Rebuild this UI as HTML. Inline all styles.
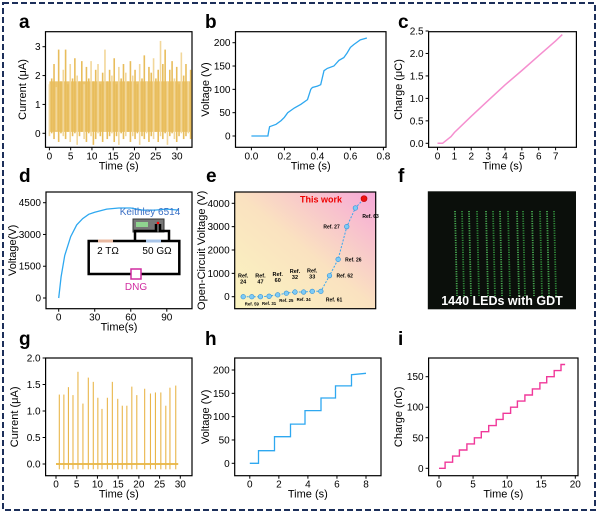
<!DOCTYPE html>
<html><head><meta charset="utf-8"><style>
html,body{margin:0;padding:0;background:#fff}
svg{display:block;font-family:"Liberation Sans",Arial,sans-serif}
</style></head><body>
<svg id="fig" width="600" height="514" viewBox="0 0 600 514">
<defs>
<linearGradient id="eg" x1="0" y1="1" x2="1" y2="0">
<stop offset="0" stop-color="#fbf5c0"/><stop offset="0.5" stop-color="#fae2c0"/><stop offset="1" stop-color="#f6a8d8"/>
</linearGradient>
</defs>
<rect x="3" y="3" width="592" height="507" fill="none" stroke="#1c2f5a" stroke-width="2" stroke-dasharray="6,3"/>
<g id="root"></g>
</svg>
<script>
// ---------- data ----------
const aHigh=[1.7,1.9,2.4,1.6,2.9,1.8,2.2,2.9,1.7,2.4,1.9,2.6,2.0,1.8,2.5,1.7,2.3,1.9,2.5,1.8,2.2,2.4,1.7,2.1,2.9,1.8,2.2,2.0,2.6,1.7,2.3,1.9,2.4,2.1,1.8,2.5,2.0,2.2,1.7,2.4,1.9,2.7,1.8,2.3,2.1,2.6,1.9,2.2,3.2,2.4,2.9,1.8,2.2,2.5,1.9,2.3,1.7,2.8,2.0,2.4,1.8,2.2];
const aLow=[-0.1,0.0,-0.2,0.1,-0.3,0.0,-0.1,-0.2,0.05,-0.3,-0.1,0.0,-0.4,-0.1,0.05,-0.2,-0.3,0.0,-0.1,-0.4,-0.2,0.0,-0.1,-0.3,0.05,-0.2,-0.1,0.0,-0.3,-0.1,-0.4,0.0,-0.2,-0.1,0.05,-0.3,-0.1,-0.2,0.0,-0.4,-0.1,-0.2,0.0,-0.3,-0.1,-0.2,0.05,-0.3,-0.1,-0.2,0.0,-0.4,-0.1,0.0,-0.2,-0.3,-0.1,0.0,-0.2,-0.1,0.0,-0.2];
const bT=[0,0.1,0.105,0.11,0.15,0.18,0.2,0.22,0.26,0.3,0.34,0.36,0.37,0.4,0.42,0.44,0.46,0.5,0.53,0.56,0.58,0.6,0.62,0.66,0.7];
const bV=[0,0,10,20,25,33,40,50,60,68,78,100,104,107,110,140,145,150,162,168,178,190,196,206,210];
const cT=[0,0.3,0.8,1,2,3,4,5,6,7,7.4];
const cQ=[0,0,0.15,0.24,0.6,0.95,1.3,1.62,1.95,2.28,2.42];
const dT=[0,2,5,10,15,20,25,30,40,50,60,70,80,90,100];
const dV=[0,1000,2000,2900,3450,3750,3950,4050,4200,4250,4250,4150,4150,4200,4150];
const eRefs=["Ref. 24","Ref. 59","Ref. 47","Ref. 31","Ref. 60","Ref. 25","Ref. 32","Ref. 34","Ref. 33","Ref. 61","Ref. 62","Ref. 26","Ref. 27","Ref. 63","This work"];
const eV=[0,0,0,20,80,150,200,200,230,230,900,1600,3000,3800,4200];
const gT=[0.8,1.9,3.0,4.1,5.3,6.5,7.8,9.0,10.1,11.1,12.4,13.6,14.9,16.0,17.1,18.3,19.5,21.4,22.8,24.0,25.3,26.5,27.5,28.9];
const gI=[1.31,1.31,1.45,1.30,1.74,1.14,1.63,1.55,1.25,1.04,1.25,1.55,1.23,1.10,1.10,1.46,1.30,1.42,1.33,1.35,1.35,1.10,1.44,1.48];
const hStepT=[0.6,1.7,2.8,3.8,4.9,5.9,7.0];
const hStepV=[27,57,84,113,140,166,190];
const hEnd=[8,193];
const iStepT=[0.9,2.0,3.0,4.1,5.2,6.2,7.3,8.4,9.4,10.5,11.5,12.6,13.7,14.8,15.8,16.9,17.9];
const iStepV=[10,20,30,40,50,60,70,80,90,100,110,120,130,140,150,160,170];
const iEnd=18.5;

// ---------- helpers ----------
const NS="http://www.w3.org/2000/svg";
const root=document.getElementById('root');
function mk(tag,attrs,parent,txt){const e=document.createElementNS(NS,tag);for(const k in attrs)e.setAttribute(k,attrs[k]);if(txt!==undefined)e.textContent=txt;(parent||root).appendChild(e);return e;}
function lin(d0,d1,r0,r1){return v=>r0+(v-d0)*(r1-r0)/(d1-d0);}
function frame(name,x0,y0,x1,y1,xs,ys,xt,yt,xl,yl,letter,lx,ly){
  const g=mk('g',{});
  
  
  const b=mk('rect',{x:x0,y:y0,width:x1-x0,height:y1-y0,fill:'none',stroke:'#000','stroke-width':1.2},g);
  
  
  xt.forEach(v=>{const X=xs(v);mk('line',{x1:X,x2:X,y1:y1,y2:y1+3,stroke:'#000'},g);
    const t=mk('text',{x:X,y:y1+12,'font-size':10,'text-anchor':'middle'},g,v);
    
    });
  yt.forEach(v=>{const Y=ys(v);mk('line',{x1:x0-3,x2:x0,y1:Y,y2:Y,stroke:'#000'},g);
    const t=mk('text',{x:x0-5,y:Y+3.5,'font-size':10,'text-anchor':'end'},g,v);
    
    });
  if(xl){const t=mk('text',{x:(x0+x1)/2,y:y1+22,'font-size':11,'text-anchor':'middle'},g,xl);
    
    }
  if(yl){const cx=yl[1],cy=(y0+y1)/2;const t=mk('text',{x:cx,y:cy,'font-size':11,'text-anchor':'middle',transform:`rotate(-90 ${cx} ${cy})`},g,yl[0]);
    
    }
  const L=mk('text',{x:lx,y:ly,'font-size':19,'font-weight':'bold'},g,letter);
  
  
  return g;
}
function path(g,pts,color,w,name){const p=mk('path',{d:'M'+pts.map(p=>p[0].toFixed(1)+','+p[1].toFixed(1)).join('L'),fill:'none',stroke:color,'stroke-width':w},g);
  
  return p;}

// ---------- panel a ----------
{const xs=lin(0,30,49.4,177),ys=lin(0,3,133.3,46.7);
 const g=frame('panel-a',45.5,31.7,192,147.3,xs,ys,[0,5,10,15,20,25,30],[0,1,2,3],'Time (s)',['Current (μA)',26],'a',19,28);
 const n=aHigh.length;
 const band=mk('rect',{x:xs(0),y:ys(1.8),width:xs(33.2)-xs(0),height:ys(0.05)-ys(1.8),fill:'#ecc56e'},g);
 
 
 for(let i=0;i<n;i++){const t=33.2*i/(n-1);const l=mk('line',{x1:xs(t),x2:xs(t),y1:ys(aLow[i]),y2:ys(aHigh[i]),stroke:i%3?'#e8bd5c':'#f2d79a','stroke-width':1.6},g);
  
  }}
// ---------- panel b ----------
{const xs=lin(0,0.8,251.4,383.4),ys=lin(0,200,136,42.7);
 const g=frame('panel-b',235.5,31.7,386,147.3,xs,ys,['0.0','0.2','0.4','0.6','0.8'],[0,50,100,150,200],'Time (s)',['Voltage (V)',209],'b',205,28);
 path(g,bT.map((t,i)=>[xs(t),ys(bV[i])]),'#2ea8f0',1.3,'voltage-line');}
// ---------- panel c ----------
{const xs=lin(0,7,437.5,555.6),ys=lin(0,2.5,143.3,31);
 const g=frame('panel-c',428.6,31.7,576.4,147.3,xs,ys,[0,1,2,3,4,5,6,7],['0.0','0.5','1.0','1.5','2.0','2.5'],'Time (s)',['Charge (μC)',402],'c',398,28);
 path(g,cT.map((t,i)=>[xs(t),ys(cQ[i])]),'#f58fcf',1.5,'charge-line');}
// ---------- panel d ----------
{const xs=lin(0,90,58.7,166.8),ys=lin(0,4500,298,202.7);
 const g=frame('panel-d',46,192,192,308.7,xs,ys,[0,30,60,90],[0,1500,3000,4500],'Time(s)',['Voltage(V)',16],'d',19,182);
 path(g,dT.map((t,i)=>[xs(t),ys(dV[i])]),'#2ea8f0',1.3,'voltage-line');
 const c=mk('g',{},g);
 
 
 const oy=-6;
 mk('text',{x:150,y:223+oy-2,'font-size':10,'text-anchor':'middle',fill:'#3b6fc4'},c,'Keithley 6514');
 mk('rect',{x:133,y:225+oy,width:31,height:13,fill:'#777',stroke:'#333'},c);
 mk('rect',{x:136,y:228+oy,width:12,height:5,fill:'#8fd48f'},c);
 mk('circle',{cx:158,cy:229+oy,r:1.3,fill:'red'},c);
 mk('path',{d:`M88.7,${247+oy}H179.3V${280+oy}H88.7Z`,fill:'none',stroke:'#000','stroke-width':2.5},c);
 mk('path',{d:`M135,${247+oy}V${237+oy}H156V${230+oy}M160,${230+oy}V${237+oy}H169V${247+oy}`,fill:'none',stroke:'#000','stroke-width':2.5},c);
 mk('rect',{x:98,y:245.5+oy,width:15,height:3,fill:'#e8b8a0'},c);
 mk('rect',{x:146,y:245.5+oy,width:15,height:3,fill:'#a8c4e8'},c);
 mk('text',{x:108,y:260+oy,'font-size':10,'text-anchor':'middle'},c,'2 TΩ');
 mk('text',{x:157,y:260+oy,'font-size':10,'text-anchor':'middle'},c,'50 GΩ');
 mk('rect',{x:131,y:275+oy,width:10,height:10,fill:'#fff',stroke:'#d02ca0','stroke-width':1.5},c);
 mk('text',{x:136,y:296+oy,'font-size':10,'text-anchor':'middle',fill:'#d02ca0'},c,'DNG');}
// ---------- panel e ----------
{const xi=i=>243.2+i*8.63,ys=lin(0,4000,296.7,203.3);
 const bg=mk('rect',{x:234.7,y:192,width:141,height:116.7,fill:'url(#eg)'});
 
 
 const g=frame('panel-e',234.7,192,375.7,308.7,lin(0,1,0,0),ys,[],[0,1000,2000,3000,4000],null,['Open-Circuit Voltage (V)',205],'e',206,182);
 path(g,eV.map((v,i)=>[xi(i),ys(v)]),'#3aa8ee',1,'voc-dashed-line').setAttribute('stroke-dasharray','2,1.5');
 eV.forEach((v,i)=>{const last=i===eV.length-1;
  const p=mk('circle',{cx:xi(i),cy:ys(v),r:last?3:2.3,fill:last?'#ee1111':'#7fcbf5',stroke:last?'#b00':'#2a8fd8','stroke-width':0.6},g);
  
  
  const lab=eRefs[i];let a;
  if(last){a=mk('text',{x:xi(i)-22,y:ys(v)+4,'font-size':9,'font-weight':'bold',fill:'#e00','text-anchor':'end'},g,lab);}
  else if(i>=10){const right=i!==12;a=mk('text',{x:right?xi(i)+7:xi(i)-7,y:ys(v)+(i===13?10:2),'font-size':5,'font-weight':'bold','text-anchor':right?'start':'end'},g,lab);}
  else if(i===9){a=mk('text',{x:xi(i)+5,y:ys(v)+10,'font-size':5,'font-weight':'bold'},g,lab);}
  else if(i%2===0){a=mk('text',{x:xi(i),y:ys(v)-19,'font-size':5.5,'font-weight':'bold','text-anchor':'middle'},g);
    mk('tspan',{x:xi(i)},a,'Ref.');mk('tspan',{x:xi(i),dy:6},a,lab.replace('Ref. ',''));}
  else{a=mk('text',{x:xi(i),y:ys(v)+9,'font-size':4.3,'font-weight':'bold','text-anchor':'middle'},g,lab);}
  
  });}
// ---------- panel f ----------
{const g=mk('g',{});
 
 
 const L=mk('text',{x:398,y:182,'font-size':19,'font-weight':'bold'},g,'f');
 
 
 mk('rect',{x:427.8,y:191.3,width:148.2,height:118,fill:'#0b0f0b'},g);
 const cols=[455,462,469,477,486,493,500,508,517,523,532,540,547,554];
 cols.forEach((x,i)=>{const l=mk('line',{x1:x,x2:x+2,y1:211,y2:296,stroke:i%2?'#2f8a3a':'#46a850','stroke-width':1.8,'stroke-dasharray':'1.2,1.2'},g);
  
  });
 const t=mk('text',{x:502,y:305,'font-size':12.5,'font-weight':'bold',fill:'#fff','text-anchor':'middle'},g,'1440 LEDs with GDT');
 
 }
// ---------- panel g ----------
{const xs=lin(0,30,56,180.3),ys=lin(0,2,464,358);
 const g=frame('panel-g',45.6,358,192,475.7,xs,ys,[0,5,10,15,20,25,30],['0.0','0.5','1.0','1.5','2.0'],'Time (s)',['Current (μA)',18],'g',19,345);
 mk('line',{x1:xs(0),x2:xs(29.5),y1:ys(0),y2:ys(0),stroke:'#eabd55','stroke-width':2},g);
 gT.forEach((t,i)=>{const l=mk('line',{x1:xs(t),x2:xs(t),y1:ys(-0.1),y2:ys(gI[i]),stroke:'#e9b64a','stroke-width':1.1},g);
  
  });}
// ---------- panel h ----------
{const xs=lin(0,8,249.8,366),ys=lin(0,200,463.3,370);
 const g=frame('panel-h',234.7,358,381,475.7,xs,ys,[0,2,4,6,8],[0,50,100,150,200],'Time (s)',['Voltage (V)',209],'h',205,345);
 const pts=[[0,0]];let v=0;hStepT.forEach((t,i)=>{pts.push([t,v]);v=hStepV[i];pts.push([t,v]);});pts.push([hEnd[0],hEnd[1]]);
 path(g,pts.map(p=>[xs(p[0]),ys(p[1])]),'#2ea8f0',1.3,'voltage-steps');}
// ---------- panel i ----------
{const xs=lin(0,20,439,575.3),ys=lin(0,150,468.3,376.7);
 const g=frame('panel-i',428.6,358,578,475.7,xs,ys,[0,5,10,15,20],[0,50,100,150],'Time (s)',['Charge (nC)',402],'i',398,345);
 const pts=[[0,0]];let v=0;iStepT.forEach((t,i)=>{pts.push([t,v]);v=iStepV[i];pts.push([t,v]);});pts.push([iEnd,v]);
 path(g,pts.map(p=>[xs(p[0]),ys(p[1])]),'#f0389a',1.4,'charge-steps');}
</script>
</body></html>
